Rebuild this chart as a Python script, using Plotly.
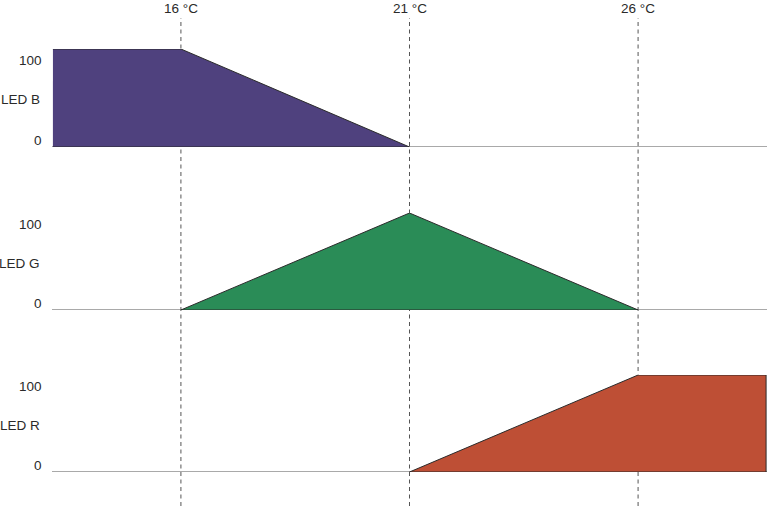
import plotly.graph_objects as go
from plotly.subplots import make_subplots

# Data
channels = ["LED B", "LED G", "LED R"]
temps_b = [13.2, 16, 21, 13.2]
vals_b = [100, 100, 0, 0]
temps_g = [16, 21, 26, 16]
vals_g = [0, 100, 0, 0]
temps_r = [21, 26, 28.8, 28.8, 21]
vals_r = [0, 100, 100, 0, 0]
colors = ["#4f417e", "#2a8c57", "#be4f35"]
marker_temps = [16, 21, 26]
marker_labels = ["16 °C", "21 °C", "26 °C"]
y_ticks = [0, 100]
y_ticktext = ["0", "100"]
x_range = [13.18, 28.82]

W, H = 770, 506
fig = make_subplots(rows=3, cols=1, shared_xaxes=False)

series = [(temps_b, vals_b), (temps_g, vals_g), (temps_r, vals_r)]
# pixel positions of y=0 and y=100 per panel
panel_px = [(147, 49), (310, 213), (472, 375)]
font = dict(family="Liberation Sans, Arial, sans-serif", size=13.5, color="#2a2a2a")

for i, ((xs, ys), col) in enumerate(zip(series, colors)):
    r = i + 1
    # baseline
    fig.add_trace(go.Scatter(x=x_range, y=[0, 0], mode="lines",
                             line=dict(color="#555555", width=1.2),
                             hoverinfo="skip", showlegend=False), row=r, col=1)
    fig.add_trace(go.Scatter(x=xs, y=ys, mode="lines", fill="toself",
                             fillcolor=col, line=dict(color="#2b2b2b", width=1),
                             showlegend=False), row=r, col=1)
    p0, p100 = panel_px[i]
    dom = [1 - p0 / H, 1 - p100 / H]
    yname = "yaxis" if r == 1 else f"yaxis{r}"
    xname = "xaxis" if r == 1 else f"xaxis{r}"
    fig.layout[yname].update(domain=dom, range=[0, 100], visible=False)
    fig.layout[xname].update(domain=[52 / W, 767 / W], range=x_range, visible=False)
    yref = "y" if r == 1 else f"y{r}"
    # tick labels
    for tv, tt in zip(y_ticks, y_ticktext):
        shift = -11 if tv == 100 else 7
        fig.add_annotation(x=44 / W, xref="paper", xanchor="right",
                           y=tv, yref=yref, yshift=shift, text=tt,
                           showarrow=False, font=font)
    fig.add_annotation(x=42 / W, xref="paper", xanchor="right",
                       y=50, yref=yref, yshift=-1.5, text=channels[i],
                       showarrow=False, font=font)

for t, lab in zip(marker_temps, marker_labels):
    fig.add_shape(type="line", x0=t, x1=t, xref="x", y0=0, y1=1 - 18 / H,
                  yref="paper", line=dict(color="#555555", width=1, dash="4px,3.5px"),
                  layer="below")
    fig.add_annotation(x=t, xref="x", y=1 - 8 / H, yref="paper", text=lab,
                       showarrow=False, font=font, xanchor="center", yanchor="middle")

fig.update_layout(width=W, height=H, margin=dict(l=0, r=0, t=0, b=0),
                  paper_bgcolor="white", plot_bgcolor="rgba(0,0,0,0)",
                  showlegend=False)
fig.write_html("out.html", config={"displayModeBar": False},
               post_script="document.body.style.margin='0';document.body.style.padding='0';")
